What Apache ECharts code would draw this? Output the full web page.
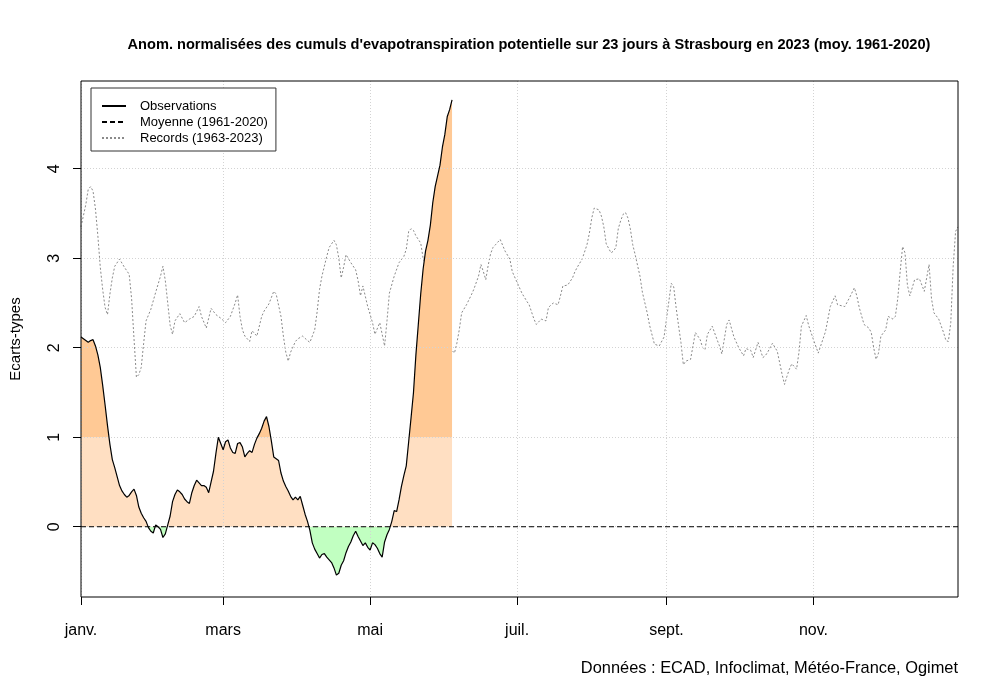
<!DOCTYPE html>
<html><head><meta charset="utf-8">
<script src="https://cdn.jsdelivr.net/npm/echarts@6/dist/echarts.min.js"></script>
<style>html,body{margin:0;padding:0;background:#fff}#c{width:1000px;height:699px}</style>
</head><body><div id="c"></div>
<script>
const titleText = "Anom. normalisées des cumuls d'evapotranspiration potentielle sur 23 jours à Strasbourg en 2023 (moy. 1961-2020)";
const sourceText = "Données : ECAD, Infoclimat, Météo-France, Ogimet";
const yAxisTitle = "Ecarts-types";
const seriesNames = ["Observations", "Moyenne (1961-2020)", "Records (1963-2023)"];

const monthTickDays = [1, 60, 121, 182, 244, 305];
const monthTickLabels = ["janv.", "mars", "mai", "juil.", "sept.", "nov."];
const yTickValues = [0, 1, 2, 3, 4];

// daily observations, starting on day 1 (1 Jan 2023)
const obsFirstDay = 1;
const obsValues = [
  2.12, 2.10, 2.08, 2.06, 2.08, 2.09, 2.02, 1.92, 1.78, 1.58,
  1.36, 1.13, 0.92, 0.75, 0.66, 0.56, 0.46, 0.40, 0.36, 0.33,
  0.35, 0.39, 0.42, 0.35, 0.22, 0.15, 0.10, 0.06, -0.01, -0.05,
  -0.07, 0.02, 0.00, -0.03, -0.12, -0.08, 0.02, 0.12, 0.28, 0.36,
  0.41, 0.39, 0.36, 0.31, 0.28, 0.26, 0.38, 0.46, 0.52, 0.49,
  0.46, 0.46, 0.44, 0.38, 0.50, 0.62, 0.82, 1.00, 0.93, 0.86,
  0.95, 0.97, 0.88, 0.83, 0.82, 0.93, 0.94, 0.89, 0.78, 0.82,
  0.85, 0.83, 0.92, 0.99, 1.04, 1.10, 1.18, 1.23, 1.12, 0.96,
  0.78, 0.76, 0.74, 0.60, 0.51, 0.45, 0.40, 0.34, 0.30, 0.33,
  0.30, 0.34, 0.24, 0.14, 0.06, -0.04, -0.18, -0.25, -0.30, -0.35,
  -0.31, -0.30, -0.34, -0.37, -0.40, -0.46, -0.54, -0.52, -0.43, -0.38,
  -0.29, -0.22, -0.17, -0.10, -0.05, -0.11, -0.16, -0.21, -0.18, -0.23,
  -0.26, -0.18, -0.20, -0.24, -0.30, -0.34, -0.17, -0.09, -0.03, 0.06,
  0.18, 0.17, 0.30, 0.45, 0.57, 0.68, 0.95, 1.22, 1.50, 1.92,
  2.26, 2.60, 2.88, 3.08, 3.20, 3.37, 3.62, 3.80, 3.92, 4.04,
  4.24, 4.38, 4.58, 4.66, 4.77
];

// records (day of year, value)
const recordPoints = [
  [1,3.35],[3,3.60],[4,3.77],[5,3.80],[6,3.75],[7,3.55],[8,3.25],[9,2.90],[10,2.65],[11,2.45],
  [12,2.37],[13,2.60],[14,2.78],[15,2.91],[17,2.99],[19,2.90],[21,2.82],[22,2.55],[23,2.10],[24,1.67],
  [25,1.70],[26,1.78],[27,2.05],[28,2.30],[30,2.43],[32,2.62],[34,2.80],[35,2.91],[36,2.75],[37,2.50],
  [38,2.25],[39,2.15],[40,2.30],[42,2.38],[44,2.28],[46,2.32],[48,2.35],[50,2.46],[51,2.35],[53,2.22],
  [55,2.44],[57,2.37],[59,2.33],[61,2.28],[63,2.35],[65,2.50],[66,2.59],[67,2.35],[68,2.20],[69,2.13],
  [71,2.07],[72,2.19],[74,2.13],[76,2.35],[77,2.41],[79,2.49],[81,2.63],[82,2.60],[84,2.35],[85,2.13],
  [86,1.95],[87,1.85],[88,1.95],[90,2.07],[91,2.10],[93,2.13],[95,2.08],[96,2.06],[98,2.20],[99,2.40],
  [100,2.65],[101,2.80],[103,3.02],[104,3.12],[106,3.20],[107,3.15],[108,3.00],[109,2.78],[110,2.90],[111,3.04],
  [113,2.95],[115,2.87],[116,2.75],[117,2.58],[118,2.69],[120,2.46],[122,2.28],[123,2.15],[125,2.28],[126,2.15],
  [127,2.02],[128,2.30],[129,2.61],[131,2.80],[133,2.95],[135,3.02],[136,3.10],[137,3.30],[138,3.33],[139,3.31],
  [140,3.25],[141,3.21],[142,3.17],[143,3.00],[145,2.85],[147,2.65],[149,2.45],[151,2.25],[153,2.10],[155,1.97],
  [156,1.94],[157,2.05],[158,2.20],[159,2.39],[161,2.48],[163,2.59],[164,2.65],[166,2.80],[167,2.93],[168,2.85],
  [169,2.76],[170,2.92],[171,3.05],[172,3.12],[173,3.15],[175,3.21],[177,3.08],[179,2.99],[180,2.85],[182,2.73],
  [184,2.61],[186,2.52],[187,2.48],[189,2.32],[190,2.26],[192,2.32],[194,2.30],[195,2.45],[197,2.50],[199,2.48],
  [200,2.58],[201,2.69],[203,2.70],[205,2.78],[206,2.85],[207,2.90],[209,2.99],[211,3.15],[212,3.28],[213,3.45],
  [214,3.56],[216,3.54],[217,3.47],[218,3.35],[219,3.16],[221,3.06],[222,3.08],[223,3.12],[224,3.33],[225,3.42],
  [226,3.49],[227,3.51],[228,3.45],[229,3.33],[230,3.15],[231,3.04],[233,2.80],[234,2.62],[236,2.39],[237,2.25],
  [239,2.04],[241,2.02],[243,2.12],[244,2.32],[246,2.72],[247,2.68],[248,2.45],[249,2.25],[250,2.06],[251,1.81],
  [252,1.85],[254,1.87],[256,2.17],[258,2.09],[259,2.00],[260,1.98],[261,2.15],[263,2.24],[265,2.09],[266,2.02],
  [267,1.93],[269,2.26],[270,2.31],[272,2.12],[274,2.00],[276,1.91],[277,1.99],[279,1.97],[280,1.89],[282,2.06],
  [284,1.89],[285,1.91],[286,1.95],[288,2.05],[290,1.96],[291,1.83],[292,1.70],[293,1.59],[294,1.68],[295,1.76],
  [296,1.82],[298,1.76],[299,1.95],[300,2.24],[302,2.36],[303,2.25],[305,2.09],[307,1.94],[308,2.02],[310,2.18],
  [311,2.32],[312,2.46],[314,2.58],[315,2.48],[318,2.46],[320,2.56],[322,2.67],[323,2.58],[324,2.45],[326,2.26],
  [328,2.22],[329,2.17],[330,2.00],[331,1.87],[332,1.94],[333,2.13],[335,2.20],[336,2.35],[338,2.32],[339,2.35],
  [340,2.55],[341,2.85],[342,3.13],[343,3.06],[344,2.70],[345,2.58],[347,2.76],[349,2.77],[351,2.63],[352,2.78],
  [353,2.93],[354,2.55],[355,2.39],[357,2.32],[359,2.17],[360,2.08],[361,2.07],[362,2.28],[363,2.91],[364,3.30],
  [365,3.35]
];

// climatological mean (normalised => 0) over the whole year
const meanPoints = [[1, 0], [365, 0]];

// fill thresholds (standard deviations)
const fillThresholds = [0, 1];

const obsPoints = obsValues.map((v, i) => [obsFirstDay + i, v]);

const FONT = "'Liberation Sans', Arial, sans-serif";
const chart = echarts.init(document.getElementById('c'), null, {renderer: 'canvas'});

chart.setOption({
  animation: false,
  backgroundColor: '#ffffff',
  textStyle: {fontFamily: FONT, color: '#000'},
  title: [{
    text: titleText,
    left: 524, top: 32, textAlign: 'center',
    textStyle: {fontFamily: FONT, fontSize: 14.6, fontWeight: 'bold', color: '#000'}
  }, {
    text: sourceText,
    right: 37, top: 655,
    textStyle: {fontFamily: FONT, fontSize: 16.4, fontWeight: 'normal', color: '#000'}
  }],
  grid: {left: 80, right: 42, top: 81, bottom: 102, show: true, borderColor: '#000', borderWidth: 1, z: 6, backgroundColor: 'transparent'},
  legend: {
    orient: 'vertical', left: 91, top: 88,
    data: seriesNames,
    padding: [11, 8, 6, 10],
    itemWidth: 24, itemHeight: 12, itemGap: 2,
    borderColor: '#333', borderWidth: 1, borderRadius: 0,
    backgroundColor: '#fff',
    itemStyle: {opacity: 0},
    textStyle: {fontFamily: FONT, fontSize: 13, color: '#000', lineHeight: 14, padding: [0, 0, 0, 9]},
    z: 10
  },
  visualMap: {
    type: 'piecewise', show: false, seriesIndex: 1, dimension: 1,
    pieces: [
      {lt: fillThresholds[0], color: '#C1FFC1'},
      {gte: fillThresholds[0], lt: fillThresholds[1], color: '#FFDFC2'},
      {gte: fillThresholds[1], color: '#FFC995'}
    ]
  },
  xAxis: {
    type: 'value', min: 1, max: 365, z: 5,
    axisLine: {show: false, onZero: false},
    axisTick: {show: true, customValues: monthTickDays, length: 8, lineStyle: {color: '#000'}},
    axisLabel: {
      customValues: monthTickDays, margin: 26,
      fontFamily: FONT, fontSize: 16, color: '#000',
      formatter: v => monthTickLabels[monthTickDays.indexOf(Math.round(v))] || ''
    },
    splitLine: {show: true, lineStyle: {color: '#D3D3D3', type: [1, 2], width: 1}}
  },
  yAxis: {
    type: 'value', min: -0.785, max: 4.98, z: 5,
    name: yAxisTitle, nameLocation: 'middle', nameGap: 58, nameRotate: 90,
    nameTextStyle: {fontFamily: FONT, fontSize: 15, color: '#000'},
    axisLine: {show: false, onZero: false},
    axisTick: {show: true, customValues: yTickValues, length: 8, lineStyle: {color: '#000'}},
    axisLabel: {customValues: yTickValues, rotate: 90, margin: 18, fontFamily: FONT, fontSize: 16, color: '#000'},
    splitLine: {show: true, lineStyle: {color: '#D3D3D3', type: [1, 2], width: 1}}
  },
  series: [
    {
      name: seriesNames[2], type: 'line', data: recordPoints, symbol: 'none', z: 2,
      lineStyle: {color: '#8a8a8a', width: 1, type: [2, 2]}, itemStyle: {color: '#8a8a8a'}
    },
    {
      name: 'fill', type: 'line', data: obsPoints, symbol: 'none', z: 3,
      lineStyle: {width: 0, opacity: 0},
      areaStyle: {opacity: 1, origin: 0}
    },
    {
      name: seriesNames[1], type: 'line', data: meanPoints, symbol: 'none', z: 7,
      lineStyle: {color: '#000', width: 1, type: [5, 3]}, itemStyle: {color: '#000'}
    },
    {
      name: seriesNames[0], type: 'line', data: obsPoints, symbol: 'none', z: 8,
      lineStyle: {color: '#000', width: 1.2}, itemStyle: {color: '#000'}
    }
  ]
});
</script></body></html>
